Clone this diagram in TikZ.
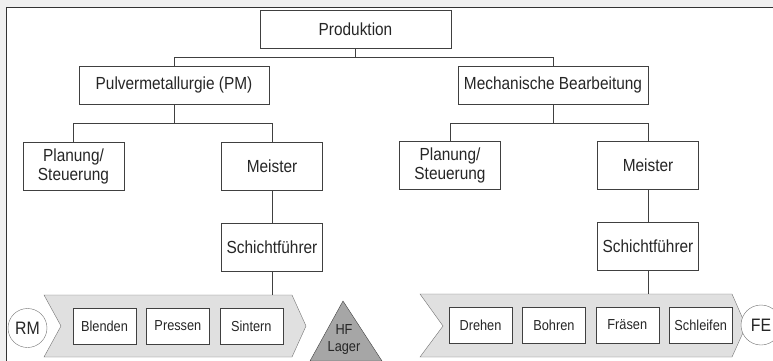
\documentclass[tikz,border=0pt]{standalone}
\usepackage{fontspec}
\setmainfont{Liberation Sans}[FakeStretch=0.88]
\usetikzlibrary{positioning}
\definecolor{backclr}{rgb}{0.94, 0.94, 0.94}
\definecolor{frameclr}{rgb}{0.2, 0.2, 0.2}
\definecolor{boxclr}{rgb}{0.25, 0.25, 0.25}
\definecolor{flowclr}{rgb}{0.88, 0.88, 0.88}
\definecolor{edgeclr}{rgb}{0.45, 0.45, 0.45}
\definecolor{lagerclr}{rgb}{0.65, 0.65, 0.65}
\tikzset{ %
  ,every node/.style={text=black!85}
  ,unit/.style={draw=boxclr, fill=white, inner sep=0, minimum width=190pt, minimum height=38pt, align=center, font=\fontsize{17.5}{19}\selectfont}
  ,post/.style={unit, minimum width=101pt, minimum height=48pt, node distance=33pt}
  ,task/.style={draw=boxclr, fill=white, inner sep=0, minimum width=63pt, minimum height=36pt, node distance=10pt, font=\fontsize{14.5}{16}\selectfont}
  ,stock/.style={draw=edgeclr, fill=white, circle, inner sep=0, minimum size=39pt, font=\fontsize{18}{20}\selectfont}
  ,flow/.style={draw=edgeclr, fill=flowclr}
  ,link/.style={draw=boxclr}
}

\begin{document}
\begin{tikzpicture}[x=1pt, y=-1pt]
  \clip (0,0) rectangle (773,361);
  \fill[backclr] (0,0) rectangle (773,361);
  \draw[frameclr, line width=1.6pt, fill=white] (6.5,7.5) rectangle (800,400);

  \draw
  node[unit, minimum width=191pt] (prod) at (355.5,29) {Produktion}
  node[unit] (pm) at (174,85) {Pulvermetallurgie (PM)}
  node[unit] (mb) at (553,85) {Mechanische Bearbeitung}
  node[post] (plan1) at (73.5,166) {Planung/\\Steuerung}
  node[post] (meist1) at (272,166) {Meister}
  node[post, below=of meist1] (schicht1) {Schichtführer}
  node[post] (plan2) at (450,165) {Planung/\\Steuerung}
  node[post] (meist2) at (648,165) {Meister}
  node[post, below=of meist2] (schicht2) {Schichtführer};

  \draw[link] (prod.south) -- ++(0,9) coordinate (splitA) -| (pm.north);
  \draw[link] (splitA) -| (mb.north);
  \draw[link] (pm.south) -- ++(0,19) coordinate (splitB) -| (plan1.north);
  \draw[link] (splitB) -| (meist1.north);
  \draw[link] (mb.south) -- ++(0,19) coordinate (splitC) -| (plan2.north);
  \draw[link] (splitC) -| (meist2.north);
  \draw[link] (meist1) -- (schicht1);
  \draw[link] (meist2) -- (schicht2);

  % Prozessketten
  \draw[flow] (44,295) -- (292,295) -- (306,326) -- (292,357) -- (44,357) -- (61,326) -- cycle;
  \draw[flow] (420,294) -- (732,294) -- (746,326) -- (732,357) -- (420,357) -- (443,326) -- cycle;
  \coordinate (topL) at (272,295);
  \coordinate (topR) at (648,294);
  \draw[link] (schicht1) -- (topL);
  \draw[link] (schicht2) -- (topR);

  \node[task] (blend) at (104.5,326) {Blenden};
  \node[task, right=of blend] (press) {Pressen};
  \node[task, right=of press] (sinter) {Sintern};
  \node[task] (dreh) at (480.5,325) {Drehen};
  \node[task, right=of dreh] (bohr) {Bohren};
  \node[task, right=of bohr] (fraes) {Fräsen};
  \node[task, right=of fraes] (schleif) {Schleifen};

  \node[stock] (rm) at (27.5,328) {RM};
  \node[stock, minimum size=40pt] (fe) at (761,325) {FE};

  \draw[draw=boxclr, fill=lagerclr] (343,301) -- (382,361) -- (310,361) -- cycle;
  \node[align=center, inner sep=0, font=\fontsize{14.5}{17}\selectfont] (hf) at (344,340) {HF\\Lager};
\end{tikzpicture}
\end{document}
